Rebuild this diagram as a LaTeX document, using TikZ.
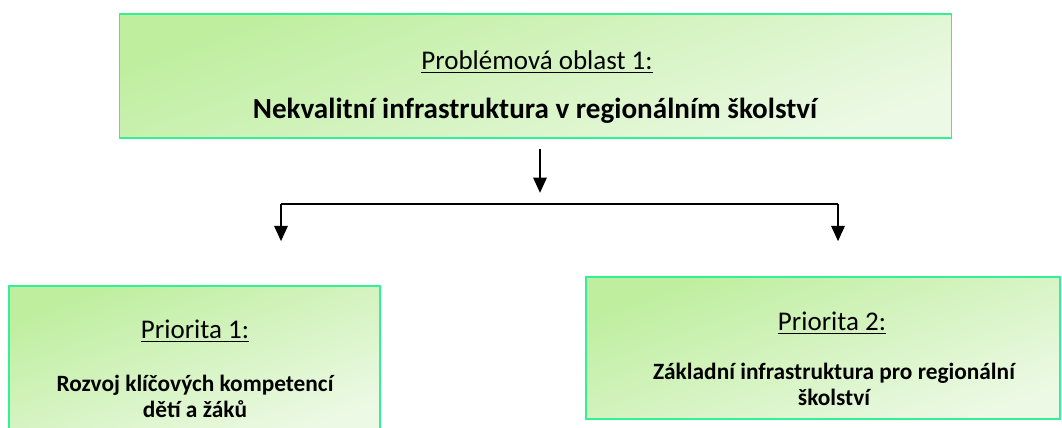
\documentclass[tikz,border=0pt]{standalone}
\usepackage{fontspec}
\setmainfont{Carlito}
\usetikzlibrary{arrows.meta}
\newcommand{\areaul}[1]{\setbox0=\hbox{#1}\rlap{\rule[-3pt]{\wd0}{1.1pt}}\box0}
\definecolor{boxline}{RGB}{50,240,150}
\definecolor{boxtop}{RGB}{190,238,158}
\definecolor{boxbot}{RGB}{236,249,228}
\tikzset{
  area/.style={draw=boxline,line width=1.2pt,top color=boxtop,bottom color=boxbot,shading angle=20},
  areatitle/.style={font=\fontsize{19.2}{23}\selectfont},
  areamain/.style={font=\fontsize{20.7}{24}\selectfont\bfseries},
  priomain/.style={font=\fontsize{16.6}{18.6}\selectfont\bfseries,align=center}
}
\begin{document}
\begin{tikzpicture}[x=0.025cm,y=-0.025cm,>={Triangle[width=3.4mm,length=3.8mm]},line width=0.8pt]
\useasboundingbox (0,0) rectangle (1062,427);
% problem area
\node[area,minimum width=20.8cm,minimum height=3.1cm] (problem) at (535.5,76) {};
\node[areatitle] (problemtitle) at (537,62) {\areaul{Problémová oblast 1:}};
\node[areamain] (problemtext) at (535,111) {Nekvalitní infrastruktura v regionálním školství};
% priorities
\node[area,minimum width=9.27cm,minimum height=3.65cm] (prio1) at (194.5,359) {};
\node[areatitle] (prio1title) at (195,331) {\areaul{Priorita 1:}};
\node[priomain] (prio1text) at (195,396) {Rozvoj klíčových kompetencí\\dětí a žáků};
\node[area,minimum width=11.85cm,minimum height=3.55cm] (prio2) at (823,348) {};
\node[areatitle] (prio2title) at (832,323) {\areaul{Priorita 2:}};
\node[priomain] (prio2text) at (834,384) {Základní infrastruktura pro regionální\\školství};
% connectors
\coordinate (split) at (540,204);
\coordinate (splitleft) at (281,204);
\coordinate (splitright) at (838,204);
\draw[->] ([yshift=-2.5mm]problem.south -| split) -- ([yshift=2.8mm]split);
\draw (splitleft) -- (splitright);
\draw[->] (splitleft) -- ([yshift=1.1cm]prio1.north -| splitleft);
\draw[->] (splitright) -- ([yshift=0.875cm]prio2.north -| splitright);
\end{tikzpicture}
\end{document}
